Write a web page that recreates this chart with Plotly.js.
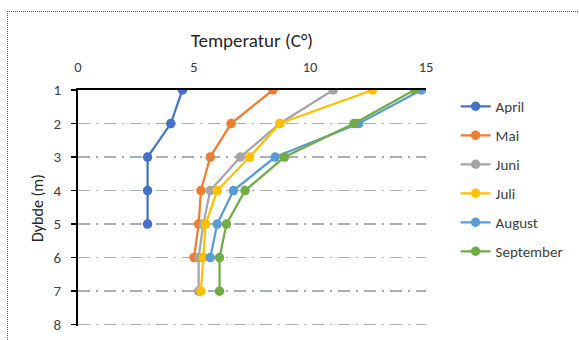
<!DOCTYPE html>
<html>
<head>
<meta charset="utf-8">
<script src="https://cdn.plot.ly/plotly-3.0.1.min.js"></script>
<style>
  html, body { margin: 0; padding: 0; background: #fff; }
  #wrap { position: relative; width: 579px; height: 340px; overflow: hidden; }
  #frame { position: absolute; left: 7px; top: 11px; width: 700px; height: 500px;
           border-top: 1px dotted #595959; border-left: 1px dotted #595959; pointer-events: none; }
  #chart { position: absolute; left: 0; top: 0; width: 579px; height: 340px; }
</style>
</head>
<body>
<div id="wrap">
  <div id="chart"></div>
  <div id="frame"></div>
</div>
<script>
const seriesNames = ["April", "Mai", "Juni", "Juli", "August", "September"];
const depthApril = [1, 2, 3, 4, 5];
const tempApril  = [4.5, 4.0, 3.0, 3.0, 3.0];
const depthMai   = [1, 2, 3, 4, 5, 6];
const tempMai    = [8.4, 6.6, 5.7, 5.3, 5.2, 5.0];
const depthJuni  = [1, 2, 3, 4, 5, 6, 7];
const tempJuni   = [11.0, 8.7, 7.0, 5.7, 5.4, 5.2, 5.2];
const depthJuli  = [1, 2, 3, 4, 5, 6, 7];
const tempJuli   = [12.7, 8.7, 7.4, 6.0, 5.5, 5.4, 5.3];
const depthAugust = [1, 2, 3, 4, 5, 6];
const tempAugust  = [14.8, 12.1, 8.5, 6.7, 6.0, 5.7];
const depthSeptember = [1, 2, 3, 4, 5, 6, 7];
const tempSeptember  = [14.5, 11.9, 8.9, 7.2, 6.4, 6.1, 6.1];
const xTickVals = [0, 5, 10, 15];
const yTickVals = [1, 2, 3, 4, 5, 6, 7, 8];
const colors = ["#4472C4", "#ED7D31", "#A5A5A5", "#FFC000", "#5B9BD5", "#70AD47"];

const xs = [tempApril, tempMai, tempJuni, tempJuli, tempAugust, tempSeptember];
const ys = [depthApril, depthMai, depthJuni, depthJuli, depthAugust, depthSeptember];

const FONT = "Carlito, Roboto, sans-serif";

const traces = seriesNames.map((n, i) => ({
  type: "scatter", mode: "lines+markers", name: n,
  x: xs[i], y: ys[i], legendgroup: n,
  line: { color: colors[i], width: 2.25 },
  marker: { color: colors[i], size: 9.5 }
}));

const layout = {
  width: 579, height: 340,
  margin: { l: 78, r: 152, t: 89.5, b: 14, pad: 0 },
  paper_bgcolor: "#fff", plot_bgcolor: "#fff",
  font: { family: FONT, color: "#404040", size: 14 },
  showlegend: true,
  legend: {
    x: 1.082, y: 1.0, xanchor: "left", yanchor: "top",
    font: { family: FONT, size: 15, color: "#404040" },
    tracegroupgap: 6.5, traceorder: "grouped", maxheight: 320
  },
  xaxis: {
    side: "top", range: [0, 15], tickvals: xTickVals,
    showgrid: false, zeroline: false, showline: true, linecolor: "#000", linewidth: 2,
    ticks: "", ticklabelstandoff: 10,
    tickfont: { size: 14.5, color: "#404040" },
    title: { text: "Temperatur (C°)", font: { size: 19, color: "#262626" }, standoff: 6 }
  },
  yaxis: {
    range: [8.04, 1], tickvals: yTickVals,
    showgrid: true, gridcolor: "#A9B0BA", gridwidth: 1.5, griddash: "12px,6px,2px,6px",
    zeroline: false, showline: true, linecolor: "#000", linewidth: 2,
    ticks: "outside", ticklen: 5, tickcolor: "#000", tickwidth: 1.5,
    ticklabelstandoff: 7,
    tickfont: { size: 15, color: "#404040" },
    title: { text: "Dybde (m)", font: { size: 16, color: "#262626" }, standoff: 6 }
  }
};

Plotly.newPlot("chart", traces, layout, { staticPlot: true, displayModeBar: false });
</script>
</body>
</html>
